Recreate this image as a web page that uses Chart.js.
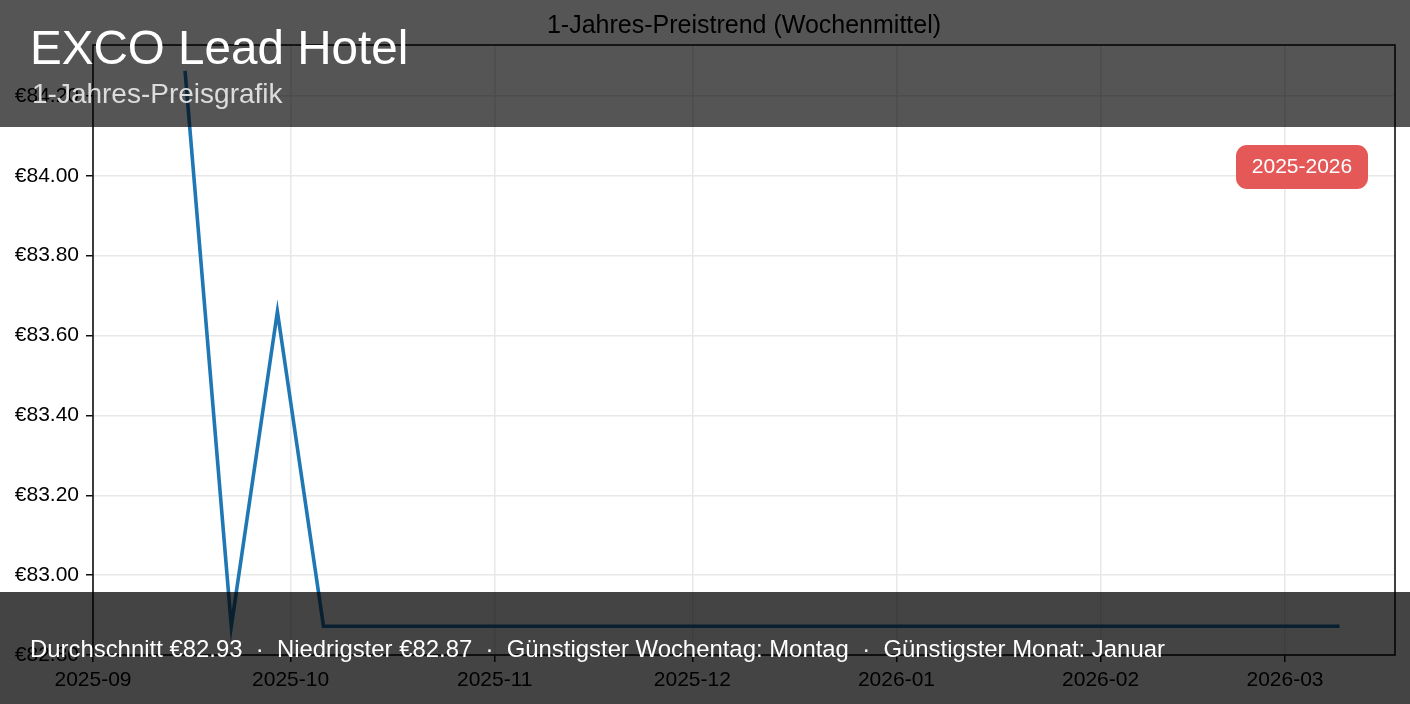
<!DOCTYPE html>
<html>
<head>
<meta charset="utf-8">
<script src="https://cdn.jsdelivr.net/npm/chart.js@4"></script>
<style>
  html, body { margin: 0; padding: 0; background: #ffffff; }
  #wrap { width: 1410px; height: 704px; position: relative; }
  canvas { display: block; }
</style>
</head>
<body>
<div id="wrap"><canvas id="c" width="1410" height="704"></canvas></div>
<script>
// ---- data ----
const weekDates = [
  '2025-09-15','2025-09-22','2025-09-29','2025-10-06','2025-10-13','2025-10-20','2025-10-27',
  '2025-11-03','2025-11-10','2025-11-17','2025-11-24',
  '2025-12-01','2025-12-08','2025-12-15','2025-12-22','2025-12-29',
  '2026-01-05','2026-01-12','2026-01-19','2026-01-26',
  '2026-02-02','2026-02-09','2026-02-16','2026-02-23',
  '2026-03-02','2026-03-09'
];
const weeklyPrice = [
  84.258, 82.872, 83.66, 82.872, 82.872, 82.872, 82.872,
  82.872, 82.872, 82.872, 82.872,
  82.872, 82.872, 82.872, 82.872, 82.872,
  82.872, 82.872, 82.872, 82.872,
  82.872, 82.872, 82.872, 82.872,
  82.872, 82.872
];
const monthTicks = ['2025-09-01','2025-10-01','2025-11-01','2025-12-01','2026-01-01','2026-02-01','2026-03-01'];
const priceTicks = [82.8, 83.0, 83.2, 83.4, 83.6, 83.8, 84.0, 84.2];
const xRange = ['2025-09-01', '2026-03-17.7'];
const yRange = [82.8, 84.3275];

const hotelName = 'EXCO Lead Hotel';
const subTitle = '1-Jahres-Preisgrafik';
const chartTitle = '1-Jahres-Preistrend (Wochenmittel)';
const badgeText = '2025-2026';
const statsText = 'Durchschnitt €82.93  ·  Niedrigster €82.87  ·  Günstigster Wochentag: Montag  ·  Günstigster Monat: Januar';

// ---- helpers ----
const DAY = 86400000;
const origin = Date.UTC(2025, 8, 1);
function toDay(s) {
  const m = s.match(/^(\d{4})-(\d{2})-(\d{2}(?:\.\d+)?)$/);
  const d = parseFloat(m[3]);
  return (Date.UTC(+m[1], +m[2] - 1, 1) - origin) / DAY + (d - 1);
}
function fmtMonth(v) {
  const dt = new Date(origin + Math.round(v) * DAY);
  return dt.getUTCFullYear() + '-' + String(dt.getUTCMonth() + 1).padStart(2, '0');
}
const FONT = '"Liberation Sans", Arial, sans-serif';

const points = weekDates.map((d, i) => ({ x: toDay(d), y: weeklyPrice[i] }));

function roundRect(ctx, x, y, w, h, r) {
  ctx.beginPath();
  ctx.moveTo(x + r, y);
  ctx.lineTo(x + w - r, y);
  ctx.arcTo(x + w, y, x + w, y + r, r);
  ctx.lineTo(x + w, y + h - r);
  ctx.arcTo(x + w, y + h, x + w - r, y + h, r);
  ctx.lineTo(x + r, y + h);
  ctx.arcTo(x, y + h, x, y + h - r, r);
  ctx.lineTo(x, y + r);
  ctx.arcTo(x, y, x + r, y, r);
  ctx.closePath();
}

const decor = {
  id: 'decor',
  afterDraw(chart) {
    const ctx = chart.ctx;
    const a = chart.chartArea;
    ctx.save();
    // axes frame
    ctx.strokeStyle = '#111';
    ctx.lineWidth = 1.6;
    ctx.strokeRect(a.left, a.top, a.right - a.left, a.bottom - a.top);
    // chart title
    ctx.fillStyle = '#000';
    ctx.font = '25px ' + FONT;
    ctx.textAlign = 'center';
    ctx.textBaseline = 'alphabetic';
    ctx.fillText(chartTitle, (a.left + a.right) / 2, 33);
    // top overlay band
    ctx.fillStyle = 'rgba(0,0,0,0.667)';
    ctx.fillRect(0, 0, chart.width, 127);
    // bottom overlay band
    ctx.fillStyle = 'rgba(0,0,0,0.733)';
    ctx.fillRect(0, 592, chart.width, chart.height - 592);
    // overlay texts
    ctx.textAlign = 'left';
    ctx.fillStyle = '#ffffff';
    ctx.font = '47.6px ' + FONT;
    ctx.fillText(hotelName, 30, 64);
    ctx.fillStyle = '#dcdcdc';
    ctx.font = '28px ' + FONT;
    ctx.fillText(subTitle, 32, 103);
    ctx.fillStyle = '#ffffff';
    ctx.font = '23.9px ' + FONT;
    ctx.fillText(statsText, 30, 657);
    // badge
    ctx.fillStyle = '#e45858';
    roundRect(ctx, 1236, 145, 132, 44, 11);
    ctx.fill();
    ctx.fillStyle = '#ffffff';
    ctx.font = '21px ' + FONT;
    ctx.textAlign = 'center';
    ctx.textBaseline = 'middle';
    ctx.fillText(badgeText, 1302, 167);
    ctx.restore();
  }
};

new Chart(document.getElementById('c'), {
  type: 'line',
  data: {
    datasets: [{
      data: points,
      borderColor: '#1f77b4',
      borderWidth: 3.6,
      pointRadius: 0,
      tension: 0,
      fill: false,
      borderCapStyle: 'square',
      borderJoinStyle: 'miter'
    }]
  },
  options: {
    responsive: false,
    animation: false,
    devicePixelRatio: 1,
    layout: { padding: { left: 0, top: 45, right: 15, bottom: 0 } },
    plugins: { legend: { display: false }, title: { display: false }, tooltip: { enabled: false } },
    scales: {
      x: {
        type: 'linear',
        min: toDay(xRange[0]),
        max: toDay(xRange[1]),
        afterBuildTicks(scale) { scale.ticks = monthTicks.map(m => ({ value: toDay(m) })); },
        afterFit(scale) { scale.height = 49; },
        ticks: {
          callback: (v) => fmtMonth(v),
          color: '#000',
          font: { family: FONT, size: 21 },
          padding: 6,
          maxRotation: 0,
          autoSkip: false
        },
        grid: { color: '#e8e8e8', lineWidth: 1.5, tickColor: '#111', tickLength: 7, tickWidth: 1.5 },
        border: { display: false }
      },
      y: {
        type: 'linear',
        min: yRange[0],
        max: yRange[1],
        afterBuildTicks(scale) { scale.ticks = priceTicks.map(v => ({ value: v })); },
        afterFit(scale) { scale.width = 93; },
        ticks: {
          callback: (v) => '€' + Number(v).toFixed(2),
          color: '#000',
          font: { family: FONT, size: 21 },
          padding: 7
        },
        grid: { color: '#e8e8e8', lineWidth: 1.5, tickColor: '#111', tickLength: 7, tickWidth: 1.5 },
        border: { display: false }
      }
    }
  },
  plugins: [decor]
});
</script>
</body>
</html>
